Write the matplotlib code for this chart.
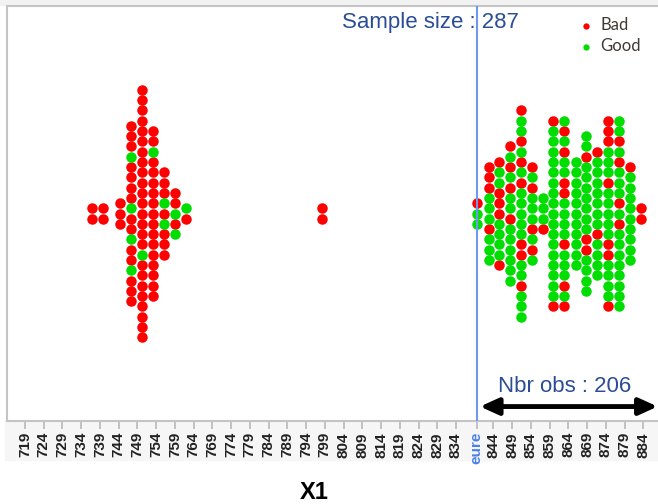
import numpy as np
import matplotlib.pyplot as plt
from matplotlib.patches import Rectangle

# one column of stacked dots per X1 bin, colours listed top to bottom (R = Bad, G = Good)
col_x = [736.9, 739.8, 744.4, 747.3, 750.2, 753.2, 756.1, 759.0, 762.0,
         798.3,
         839.7, 842.7, 845.6, 848.4, 851.4, 854.3, 857.2, 860.0, 862.9,
         866.0, 868.7, 871.7, 874.5, 877.5, 880.5, 883.3]
col_stack = [
    "RR", "RR", "RRR",
    "RRRGRRRRGRRGRRGRRR",
    "RRRRRRRRRRRRRRRRGRRRRRRRR",
    "RRGRRRRRRRRRRRRRR",
    "RRRGRGRRR",
    "RRGRG",
    "GR",
    "RR",
    "RGG",
    "RRRGGGRGGG",
    "RGGRRRGGGGR",
    "RGRGRGGRGGGGGG",
    "RGGRGRGRGGGGGRRGGRGGG",
    "RGRGGGRGRG",
    "GGGR",
    "RGGGGGGGGGGGGGGGGGR",
    "GRGRGGRRGGGGRGGGRGR",
    "GGGGGGGGGGG",
    "GGRGGGGGGGRRGGGG",
    "RGGGGGGGRGGGG",
    "RRRGGGRGGGGGRRGGGGR",
    "GGRGRGGGRGRGGGGGGGG",
    "RGGGGGGGGG",
    "RR",
]
classes = {"R": "Bad", "G": "Good"}
class_colors = {"Bad": "#ff0000", "Good": "#00dd00"}

tick_vals = [v for v in range(719, 885, 5) if v != 839]
cutoff = 839.55
sample_size = 287
nbr_obs = 206

# expand columns into points
xs, ys, labs = [], [], []
for x, s in zip(col_x, col_stack):
    n = len(s)
    for i, c in enumerate(s):
        xs.append(x)
        ys.append((n - 1) / 2 - i)
        labs.append(classes[c])
xs, ys, labs = np.array(xs), np.array(ys), np.array(labs)

plt.rcParams['font.family'] = ['Liberation Sans', 'DejaVu Sans']

fig = plt.figure(figsize=(6.58, 5.04), dpi=100)
# light grey bands: top strip and tick label strip
fig.add_artist(Rectangle((0, 1 - 5 / 504), 1, 5 / 504, transform=fig.transFigure,
                         color='#f2f2f2', zorder=0))
fig.add_artist(Rectangle((5 / 658, 44 / 504), 653 / 658, 39 / 504, transform=fig.transFigure,
                         color='#f6f6f6', zorder=0))

ax = fig.add_axes([7 / 658, 83 / 504, 651 / 658, 415 / 504])
for name in ["Bad", "Good"]:
    m = labs == name
    ax.scatter(xs[m], ys[m], s=57, color=class_colors[name], linewidths=0,
               label=name, zorder=2)

ax.axvline(cutoff, color='#6d9af0', lw=1.5, zorder=3)

ax.set_xlim(714.2, 887.9)
ax.set_ylim(-20.1, 20.1)
ax.set_yticks([])

ticks = sorted(tick_vals + [cutoff])
ax.set_xticks(ticks, ['eure' if t == cutoff else str(t) for t in ticks])
ax.tick_params(axis='x', direction='out', length=6, width=1.2, color='#b8b8b8',
               pad=2, labelsize=11, labelrotation=90, labelcolor='#222222')
for t, lbl, tl in zip(ticks, ax.get_xticklabels(), ax.xaxis.get_ticklines()[::2]):
    lbl.set_fontweight('bold')
    if t == cutoff:
        lbl.set_color('#4a80e8')
        tl.set_color('#6d9af0')

for side in ['top', 'left', 'bottom']:
    ax.spines[side].set_color('#c4c4c4')
    ax.spines[side].set_linewidth(1.5)
ax.spines['right'].set_visible(False)

leg = ax.legend(loc='upper left', bbox_to_anchor=(573 / 658, 1 - 9 / 504),
                bbox_transform=fig.transFigure, frameon=False, borderpad=0,
                handlelength=0.6, handletextpad=0.55, labelspacing=0.3,
                markerscale=0.6, prop={'family': 'Lato', 'size': 12})
for txt in leg.get_texts():
    txt.set_color('#403a34')

fig.text(341.7 / 658, 1 - 28.3 / 504, f'Sample size : {sample_size}', fontsize=16,
         color='#2a4d96', va='baseline', ha='left')
fig.text(498 / 658, 1 - 392 / 504, f'Nbr obs : {nbr_obs}', fontsize=16,
         color='#2a4d96', va='baseline', ha='left')
ax.annotate('', xy=(887.8, -18.7), xytext=(840.4, -18.7),
            arrowprops=dict(arrowstyle='<|-|>,head_length=11,head_width=5',
                            mutation_scale=1, lw=3.5, color='black',
                            shrinkA=0, shrinkB=0),
            annotation_clip=False)

fig.text(314 / 658, 1 - 499 / 504, 'X1', fontsize=17, fontweight='bold',
         ha='center', va='baseline')

fig.savefig('out.png', dpi=100)
